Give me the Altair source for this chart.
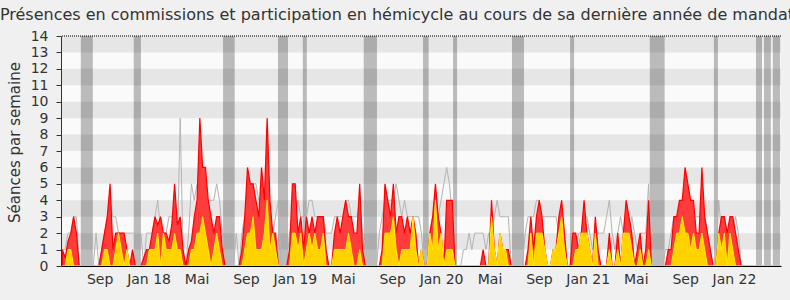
import altair as alt
import pandas as pd

# ---------------- data (weekly values) ----------------
first_week = "2017-05-31"

total = [
    1, 0.5, 1.5, 2, 3, 2, 0, 0, 0, 0,
    0, 0, 0, 0, 1, 2, 3, 5, 1, 2,
    2, 2, 2, 1, 0, 1, 0, 0, 0, 0.5,
    1, 1, 2, 3, 2.5, 3, 2, 2, 1.5, 2.5,
    5, 2.5, 3, 1, 0, 1, 1.5, 3, 4, 9,
    6, 6, 4, 3, 2, 3, 3, 1, 0, 0,
    0, 0, 0, 0, 1, 3, 6, 5, 5, 4,
    3, 6, 4, 9, 4, 2, 2, 0, 0, 0,
    0, 1, 5, 5, 2, 3, 1, 3, 2, 3,
    2, 3, 3, 3, 1, 0, 0, 2, 3, 2,
    3, 4, 3, 3, 2, 2, 5, 1, 0, 0,
    0, 0, 0, 0, 1, 5, 4, 3, 5, 2,
    3, 3, 2, 3, 2, 3, 2, 0, 1, 0,
    0, 2, 3, 5, 3, 2, 0, 4, 4, 4,
    0, 0, 0, 0, 0, 0, 0, 0, 0, 0,
    1, 0, 0, 4, 1, 0, 2, 1, 1, 1,
    0, 0, 0, 0, 0, 0, 1, 3, 1, 3,
    4, 3, 1, 0, 0, 1, 1, 3, 4, 2,
    0, 0, 2, 2, 1, 2, 4, 2, 1, 0,
    3, 1, 0, 0, 0, 2, 0, 0, 2, 0,
    2, 4, 3, 2, 0, 1, 2, 0, 1, 4,
    0, 0, 0, 0, 0, 0, 1, 1, 3, 3,
    4, 4, 6, 5, 4, 4, 2, 2, 6, 3,
    2, 1, 0, 0, 2, 3, 3, 2, 3, 3,
    2, 1, 0, 0, 0, 0, 0, 0, 0, 0,
    0, 0, 0, 0, 0, 0, 0,
]

commission = [
    0, 0, 1, 1, 0, 0, 0, 0, 0, 0,
    0, 0, 0, 0, 0, 1, 1, 0, 0, 1,
    2, 1, 0, 1, 0, 0, 0, 0, 0, 0,
    0, 1, 1, 1, 2, 0, 2, 1, 1, 1,
    2, 1, 1, 0, 0, 0, 1, 1, 2, 2,
    3, 2, 1, 0, 1, 2, 1, 0, 0, 0,
    0, 0, 0, 0, 0, 1, 2, 2, 3, 1,
    1, 1, 2, 4, 1, 2, 1, 0, 0, 0,
    0, 0, 2, 2, 1, 2, 0, 1, 2, 1,
    2, 1, 1, 2, 0, 0, 0, 1, 1, 1,
    1, 1, 2, 1, 0, 0, 1, 0, 0, 0,
    0, 0, 0, 0, 0, 2, 2, 2, 3, 1,
    0, 1, 1, 1, 1, 3, 1, 0, 1, 0,
    0, 2, 1, 4, 1, 2, 0, 1, 1, 1,
    0, 0, 0, 0, 0, 0, 0, 0, 0, 0,
    0, 0, 0, 3, 1, 0, 2, 1, 1, 0,
    0, 0, 0, 0, 0, 0, 0, 2, 0, 2,
    2, 2, 1, 0, 0, 1, 1, 2, 3, 1,
    0, 0, 0, 1, 1, 2, 2, 2, 1, 0,
    2, 0, 0, 0, 0, 1, 0, 0, 1, 0,
    2, 2, 2, 1, 0, 0, 1, 0, 0, 1,
    0, 0, 0, 0, 0, 0, 0, 0, 1, 2,
    2, 3, 2, 2, 1, 2, 1, 1, 2, 1,
    0, 0, 0, 0, 2, 1, 2, 0, 2, 1,
    0, 0, 0, 0, 0, 0, 0, 0, 0, 0,
    0, 0, 0, 0, 0, 0, 0,
]

median = [
    1, 1, 2, 2, 3, 3, 0, 0, 0, 0,
    0, 0, 2, 0, 1, 2, 3, 4, 3, 3,
    2, 2, 2, 2, 2, 2, 2, 2, 2, 0,
    2, 2, 2, 3, 4, 2, 2, 2, 3, 3,
    3, 1, 9, 1, 0, 2, 5, 4, 5, 5,
    5, 4, 4, 4, 4, 5, 4, 2, 0, 0,
    0, 0, 2, 0, 2, 3, 4, 5, 5, 5,
    4, 4, 4, 4, 3, 2, 3, 4, 0, 0,
    0, 2, 3, 3, 4, 3, 3, 3, 4, 4,
    3, 3, 3, 3, 2, 2, 2, 3, 3, 3,
    3, 4, 4, 3, 3, 3, 4, 2, 0, 0,
    0, 0, 0, 2, 3, 4, 4, 4, 4, 5,
    4, 3, 4, 3, 3, 3, 3, 3, 2, 0,
    0, 2, 3, 3, 3, 4, 5, 6, 5, 3,
    0, 0, 0, 1, 1, 2, 1, 2, 2, 2,
    2, 1, 2, 2, 3, 4, 3, 3, 3, 3,
    0, 0, 0, 0, 0, 2, 3, 3, 3, 4,
    4, 3, 3, 3, 3, 3, 3, 2, 2, 1,
    0, 0, 1, 1, 2, 2, 3, 3, 2, 1,
    2, 2, 2, 2, 3, 4, 2, 1, 2, 3,
    2, 2, 2, 3, 2, 1, 2, 2, 2, 5,
    0, 0, 0, 0, 0, 1, 1, 2, 3, 3,
    3, 4, 4, 4, 3, 3, 3, 3, 3, 3,
    2, 1, 0, 0, 4, 2, 3, 2, 2, 2,
    3, 2, 0, 0, 0, 0, 0, 0, 0, 0,
    0, 0, 0, 0, 0, 0, 0,
]

vac_start = ["2017-07-16", "2017-11-25", "2018-07-06", "2018-11-20", "2019-01-21",
             "2019-06-22", "2019-11-17", "2020-01-31", "2020-06-26", "2020-11-18",
             "2021-06-05", "2021-11-12", "2022-02-25", "2022-03-17", "2022-04-08"]
vac_end = ["2017-08-15", "2017-12-13", "2018-08-04", "2018-12-15", "2019-01-31",
           "2019-07-25", "2019-12-01", "2020-02-10", "2020-07-26", "2020-11-28",
           "2021-07-12", "2021-11-22", "2022-03-12", "2022-04-03", "2022-04-26"]

stripe_lo = [1, 3, 5, 7, 9, 11, 13]
stripe_hi = [2, 4, 6, 8, 10, 12, 14]
y_max = 14

tick_dates = ["2017-09-01", "2018-01-01", "2018-05-01", "2018-09-01", "2019-01-01",
              "2019-05-01", "2019-09-01", "2020-01-01", "2020-05-01", "2020-09-01",
              "2021-01-01", "2021-05-01", "2021-09-01", "2022-01-01"]
tick_labels = ["Sep", "Jan 18", "Mai", "Sep", "Jan 19", "Mai", "Sep", "Jan 20",
               "Mai", "Sep", "Jan 21", "Mai", "Sep", "Jan 22"]

title_text = ("Présences en commissions et participation en hémicycle "
              "au cours de sa dernière année de mandat")

# ---------------- tables ----------------
dates = pd.date_range(first_week, periods=len(total), freq="7D")
df = pd.DataFrame({"date": dates, "total": total,
                   "commission": commission, "median": median})
vac = pd.DataFrame({"start": pd.to_datetime(vac_start), "end": pd.to_datetime(vac_end)})
stripes = pd.DataFrame({"lo": stripe_lo, "hi": stripe_hi})
top = pd.DataFrame({"v": [y_max]})

x_domain = [alt.DateTime(year=2017, month=5, date=27, hours=12),
            alt.DateTime(year=2022, month=4, date=28, hours=10)]
xs = alt.Scale(domain=x_domain, nice=False)
ys = alt.Scale(domain=[0, y_max], nice=False, zero=True)

tick_ts = [pd.Timestamp(d) for d in tick_dates]
label_expr = "".join(
    f"(year(datum.value) == {t.year} && month(datum.value) == {t.month - 1}) ? '{lab}' : "
    for t, lab in zip(tick_ts, tick_labels)
) + "''"

FONT = "DejaVu Sans"
TXT = "#333333"

x_axis = alt.Axis(
    values=[alt.DateTime(year=t.year, month=t.month, date=t.day) for t in tick_ts],
    labelExpr=label_expr, title=None, grid=False, ticks=False, tickSize=0,
    labelPadding=6, labelFontSize=14, labelFont=FONT, labelColor=TXT,
    domainColor="#000000", domainWidth=1, labelOverlap=False, labelFlush=False,
    labelBound=False, zindex=1,
)
y_axis = alt.Axis(
    values=list(range(0, y_max + 1)), title="Séances par semaine", grid=False,
    tickSize=5, tickColor=TXT, domainColor=TXT, labelPadding=8,
    labelFontSize=14, labelFont=FONT, labelColor=TXT,
    titleFontSize=15, titleFont=FONT, titleFontWeight="normal", titleColor=TXT,
    titlePadding=8, titleY=106, labelOverlap=False, zindex=1,
)

stripe_layer = alt.Chart(stripes).mark_rect(color="#e6e6e6").encode(
    y=alt.Y("lo:Q", scale=ys, axis=y_axis), y2="hi:Q")

vac_layer = alt.Chart(vac).mark_rect(color="#000000", opacity=0.25).encode(
    x=alt.X("start:T", scale=xs, axis=x_axis), x2="end:T")

median_layer = alt.Chart(df).mark_line(color="#b4b4b4", strokeWidth=1,
                                       interpolate="linear").encode(
    x=alt.X("date:T", scale=xs, axis=x_axis),
    y=alt.Y("median:Q", scale=ys, axis=y_axis))

total_layer = alt.Chart(df).mark_area(fill="#ff3c3c", stroke="#ff0000", strokeWidth=1.2,
                                      opacity=1, interpolate="linear").encode(
    x=alt.X("date:T", scale=xs, axis=x_axis),
    y=alt.Y("total:Q", scale=ys, axis=y_axis, stack=None))

comm_layer = alt.Chart(df).mark_area(fill="#ffd200", stroke="#ffee00", strokeWidth=1,
                                     opacity=1, interpolate="linear").encode(
    x=alt.X("date:T", scale=xs, axis=x_axis),
    y=alt.Y("commission:Q", scale=ys, axis=y_axis, stack=None))

top_layer = alt.Chart(top).mark_rule(color="#000000", strokeDash=[1, 1],
                                     strokeWidth=1).encode(
    y=alt.Y("v:Q", scale=ys, axis=y_axis))

chart = alt.layer(
    stripe_layer, vac_layer, median_layer, total_layer, comm_layer, top_layer
).properties(
    width=720, height=230,
    title=alt.TitleParams(text=title_text, fontSize=16, font=FONT, fontWeight="normal",
                          color=TXT, anchor="middle", dx=-24, offset=6),
    autosize=alt.AutoSizeParams(type="none"),
    padding={"left": 61, "top": 36, "right": 9, "bottom": 34},
    background="#f0f0f0",
).configure_view(strokeWidth=0, fill="#fafafa")

chart.save("out.html", embed_options={"renderer": "svg", "actions": False})
